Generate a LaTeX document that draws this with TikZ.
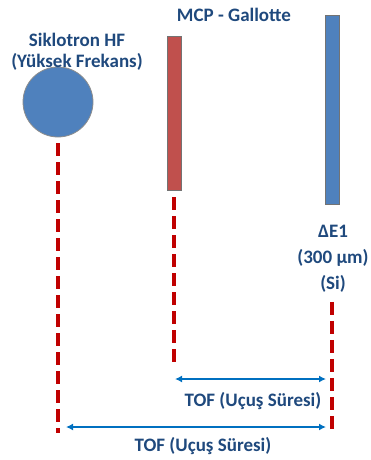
\documentclass[tikz,border=0pt]{standalone}
\usepackage{fontspec}
\setmainfont{Carlito}
\usetikzlibrary{arrows.meta, positioning}
\definecolor{labelBlue}{RGB}{31,73,125}
\definecolor{detRed}{RGB}{192,80,77}
\definecolor{detBlue}{RGB}{79,129,189}
\definecolor{timeRed}{RGB}{192,0,0}
\definecolor{arrowBlue}{RGB}{0,112,192}

\begin{document}
\begin{tikzpicture}[x=1pt, y=-1pt,
    txt/.style={text=labelBlue, font=\fontsize{19}{21}\selectfont\bfseries, align=center, inner sep=0pt},
    detector/.style={rectangle, draw=black!55, line width=0.8pt, minimum width=14pt, inner sep=0pt},
    timeline/.style={timeRed, line width=4pt, dash pattern=on 13pt off 6pt},
    tofarrow/.style={arrowBlue, line width=1.6pt, {Latex[length=7pt,width=7pt]}-{Latex[length=7pt,width=7pt]}}
  ]
    \useasboundingbox (0,0) rectangle (370,460);

    % Detectors
    \node[circle, fill=detBlue, draw=black!45, line width=0.8pt, minimum size=70pt, inner sep=0pt] (hf) at (58,102) {};
    \node[detector, fill=detRed, minimum height=154pt] (mcp) at (174,113) {};
    \node[detector, fill=detBlue, minimum height=189pt] (de1) at (332,109.5) {};

    % Labels
    \node[txt] (hfLbl) at (77,52) {Siklotron HF\\(Yüksek Frekans)};
    \node[txt] (mcpLbl) at (234,15) {MCP - Gallotte};
    \node[txt, font=\fontsize{19}{26}\selectfont\bfseries] (de1Lbl) at (333,259) {ΔE1\\(300 µm)\\(Si)};

    % Timing lines
    \coordinate (hfEnd) at (58,433);
    \coordinate (mcpEnd) at (174,362);
    \coordinate (de1End) at (332,432);
    \draw[timeline] ([yshift=-6pt]hf.south) -- (hfEnd);
    \draw[timeline] ([yshift=-7pt]mcp.south) -- (mcpEnd);
    \draw[timeline] ([yshift=-9pt]de1Lbl.south -| de1End) -- (de1End);

    % TOF arrows
    \coordinate (tofA) at (175,379);
    \coordinate (tofB) at (326,379);
    \coordinate (tofC) at (66,427);
    \coordinate (tofD) at (326,427);
    \draw[tofarrow] (tofA) -- (tofB);
    \draw[tofarrow] (tofC) -- (tofD);
    \node[txt] (tofLbl1) at (253,401) {TOF (Uçuş Süresi)};
    \node[txt] (tofLbl2) at (203,446) {TOF (Uçuş Süresi)};

  \end{tikzpicture}
\end{document}
